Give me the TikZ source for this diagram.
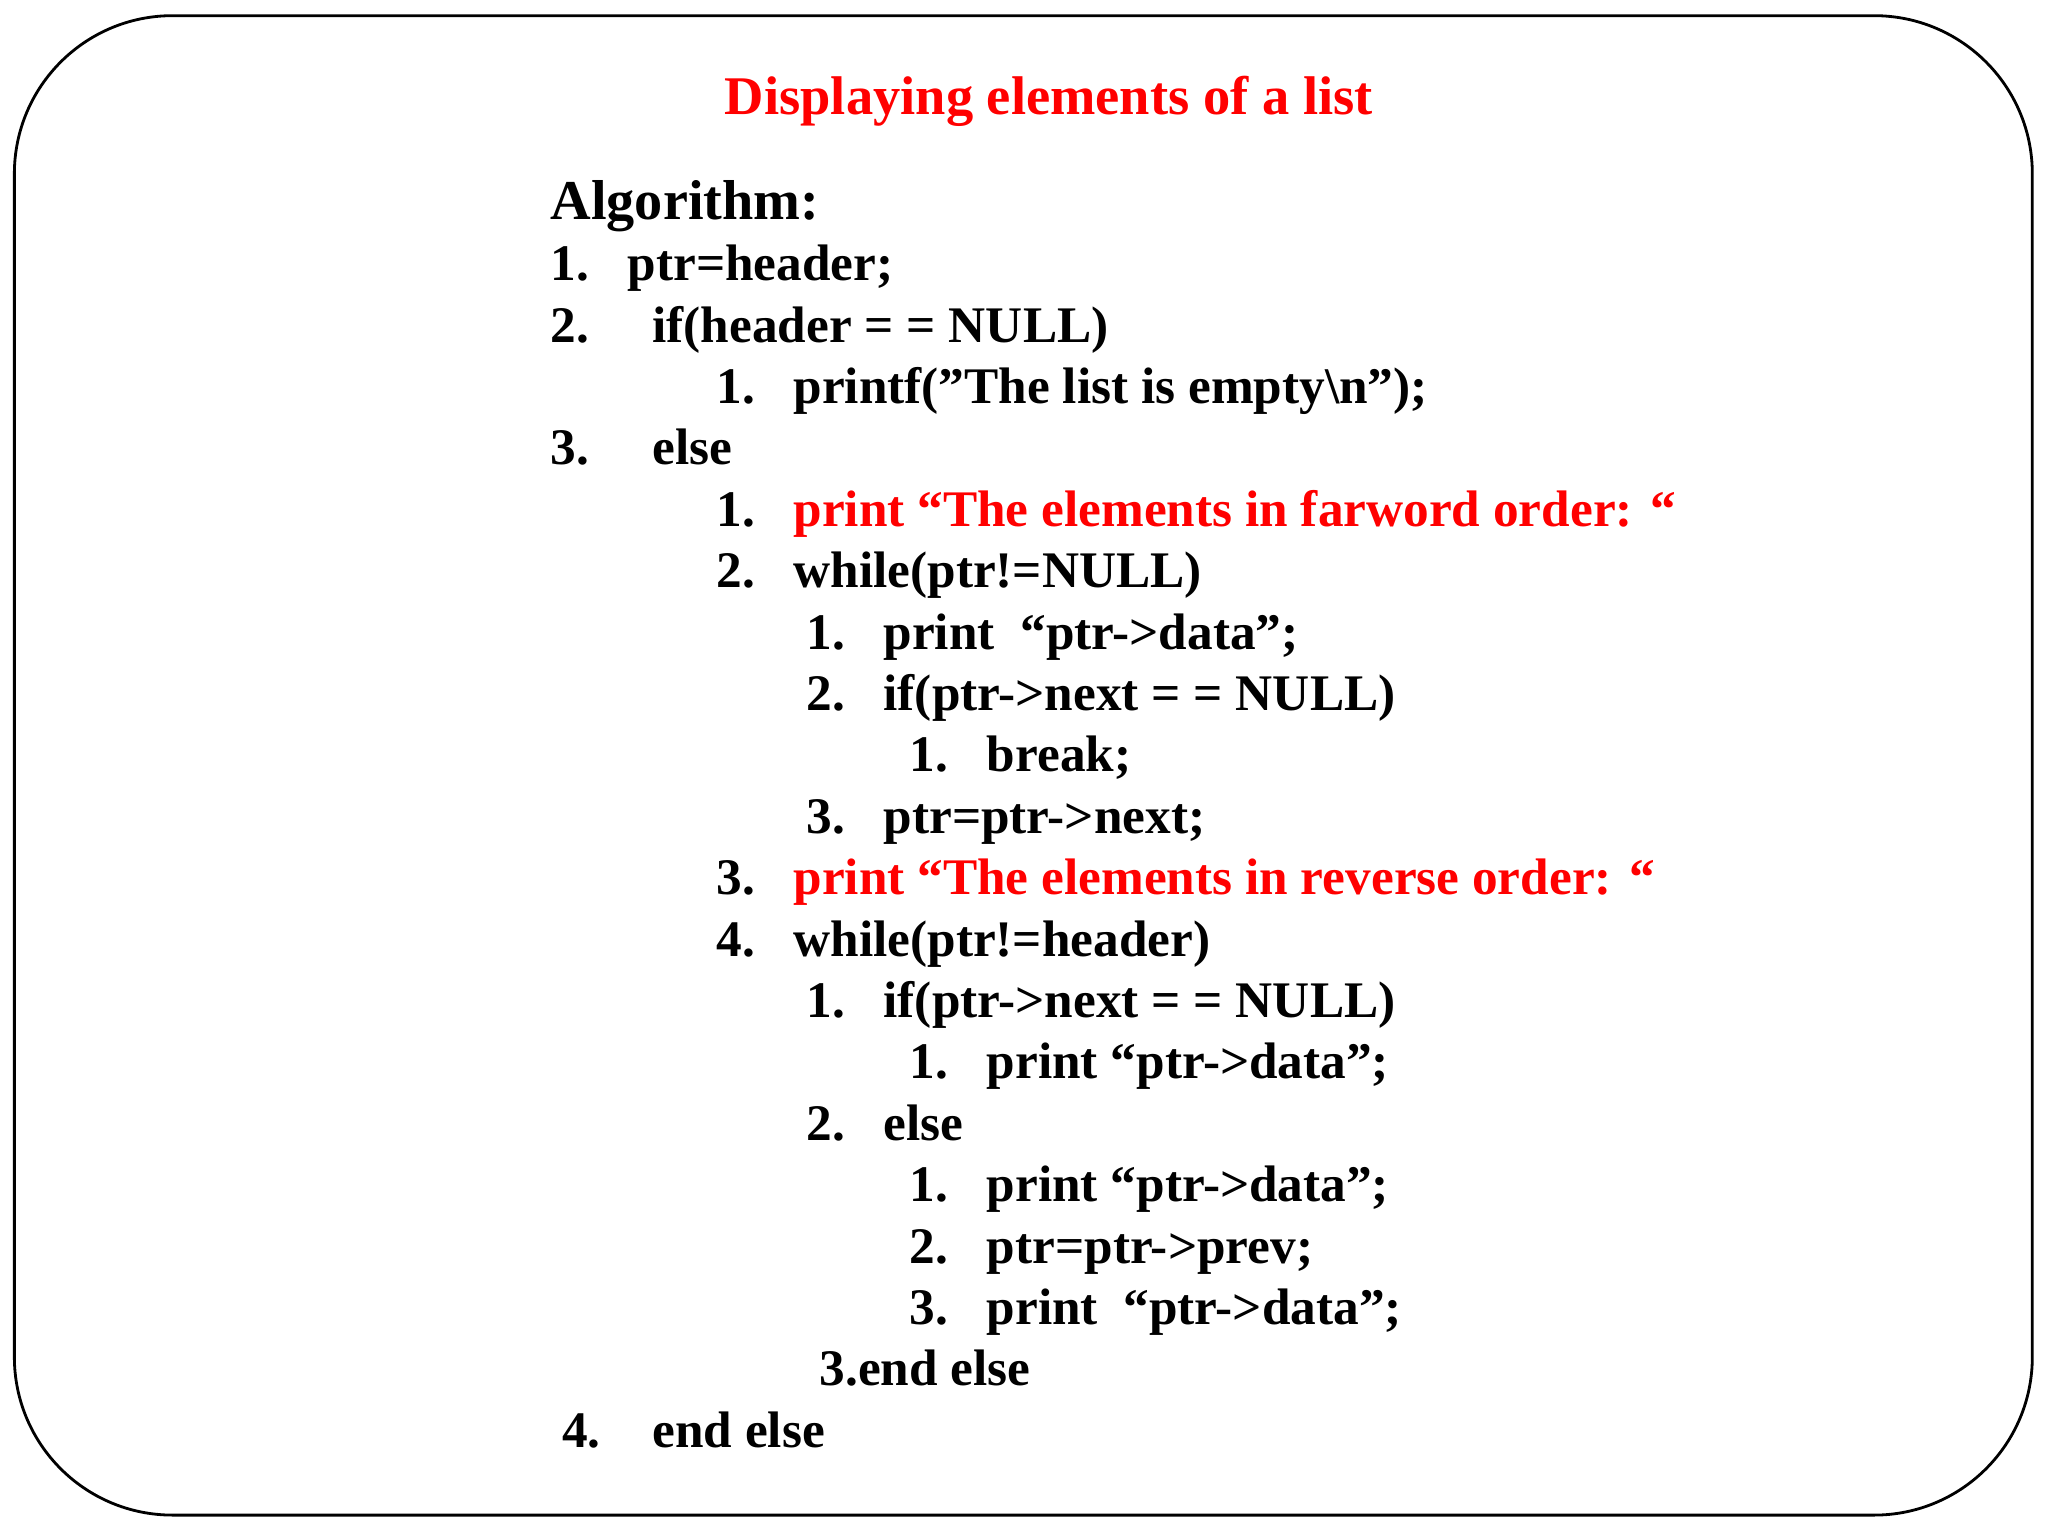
\documentclass[tikz,border=0pt]{standalone}
\usepackage{fontspec}
\setmainfont{Liberation Serif}
\begin{document}
\begin{tikzpicture}[x=0.013061cm,y=-0.013061cm,
  t/.style={anchor=base west,inner sep=0pt,font=\fontsize{14.6}{17}\selectfont\bfseries},
  r/.style={t,text=red}]
\useasboundingbox (0,0) rectangle (1568,1176);
\draw[line width=0.8pt,rounded corners=45] (11,12) rectangle (1556,1160);
\node[r,anchor=base,font=\fontsize{15.5}{18}\selectfont\bfseries] (title) at (803,88) {Displaying elements of a list};
\node[t,font=\fontsize{16}{18}\selectfont\bfseries] (alg) at (421,168) {Algorithm:};
\node[t] (n1) at (421,215) {1.}; \node[t] (l1) at (480,215) {ptr=header;};
\node[t] (n2) at (421,262) {2.}; \node[t] (l2) at (499,262) {if(header = = NULL)};
\node[t] (n3) at (548,309) {1.}; \node[t] (l3) at (607,309) {printf("The list is empty\textbackslash n");};
\node[t] (n4) at (421,356) {3.}; \node[t] (l4) at (499,356) {else};
\node[t] (n5) at (548,403) {1.}; \node[r] (l5) at (607,403) {print “The elements in farword order: “};
\node[t] (n6) at (548,450) {2.}; \node[t] (l6) at (607,450) {while(ptr!=NULL)};
\node[t] (n7) at (617,497) {1.}; \node[t] (l7) at (676,497) {print\ \ “ptr->data”;};
\node[t] (n8) at (617,544) {2.}; \node[t] (l8) at (676,544) {if(ptr->next = = NULL)};
\node[t] (n9) at (696,591) {1.}; \node[t] (l9) at (755,591) {break;};
\node[t] (n10) at (617,638) {3.}; \node[t] (l10) at (676,638) {ptr=ptr->next;};
\node[t] (n11) at (548,685) {3.}; \node[r] (l11) at (607,685) {print “The elements in reverse order: “};
\node[t] (n12) at (548,732) {4.}; \node[t] (l12) at (607,732) {while(ptr!=header)};
\node[t] (n13) at (617,779) {1.}; \node[t] (l13) at (676,779) {if(ptr->next = = NULL)};
\node[t] (n14) at (696,826) {1.}; \node[t] (l14) at (755,826) {print “ptr->data”;};
\node[t] (n15) at (617,873) {2.}; \node[t] (l15) at (676,873) {else};
\node[t] (n16) at (696,920) {1.}; \node[t] (l16) at (755,920) {print “ptr->data”;};
\node[t] (n17) at (696,967) {2.}; \node[t] (l17) at (755,967) {ptr=ptr->prev;};
\node[t] (n18) at (696,1014) {3.}; \node[t] (l18) at (755,1014) {print\ \ “ptr->data”;};
\node[t] (l19) at (627,1061) {3.end else};
\node[t] (n20) at (430,1108) {4.}; \node[t] (l20) at (499,1108) {end else};
\end{tikzpicture}
\end{document}
